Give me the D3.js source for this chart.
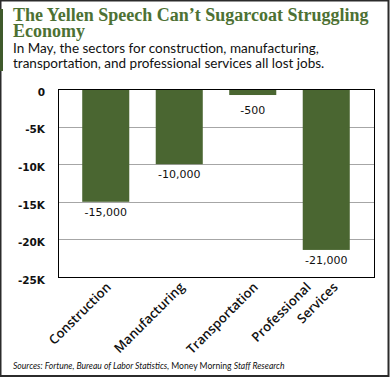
<!DOCTYPE html>
<html>
<head>
<meta charset="utf-8">
<script src="https://cdn.jsdelivr.net/npm/d3@7"></script>
<style>
  html, body { margin: 0; padding: 0; background: #fff; }
  svg { display: block; }
</style>
</head>
<body>
<script>
const categories = ["Construction", "Manufacturing", "Transportation", "Professional Services"];
const categoryLines = [["Construction"], ["Manufacturing"], ["Transportation"], ["Professional", "Services"]];
const jobChanges = [-15000, -10000, -800, -21400];
const valueLabels = ["-15,000", "-10,000", "-500", "-21,000"];
const yTicks = [0, -5000, -10000, -15000, -20000, -25000];
const yTickLabels = ["0", "-5K", "-10K", "-15K", "-20K", "-25K"];
const titleLines = ["The Yellen Speech Can\u2019t Sugarcoat Struggling", "Economy"];
const subtitleLines = ["In May, the sectors for construction, manufacturing,", "transportation, and professional services all lost jobs."];

const W = 390, H = 377;
const plot = { left: 58, top: 89, right: 374, bottom: 277 };
const green = "#4a6631";

const svg = d3.select("body").append("svg").attr("width", W).attr("height", H);

// frame
svg.append("rect").attr("x", 0.5).attr("y", 0.5).attr("width", 388).attr("height", 375.5)
  .attr("fill", "#fff").attr("stroke", "#2b2b2b").attr("stroke-width", 2);
svg.append("rect").attr("x", 0).attr("y", 9).attr("width", 3).attr("height", 62).attr("fill", "#3f5a2b");

// title
svg.append("g").selectAll("text").data(titleLines).join("text")
  .attr("x", 13).attr("y", (d, i) => 20.5 + i * 16.5)
  .attr("font-family", "'Liberation Serif', serif").attr("font-weight", "bold")
  .attr("font-size", 18).attr("fill", "#4d7133")
  .text(d => d);

svg.append("g").selectAll("text").data(subtitleLines).join("text")
  .attr("x", 13).attr("y", (d, i) => 53 + i * 15)
  .attr("font-family", "Lato, sans-serif").attr("font-size", 13.5).attr("fill", "#111")
  .text(d => d);

const y = d3.scaleLinear().domain([-25000, 0]).range([plot.bottom, plot.top]);
const x = d3.scaleBand().domain(categories).range([69, 363]).paddingInner(0.36).paddingOuter(0.18);

// gridlines
svg.append("g").selectAll("line").data(yTicks.filter(t => t !== 0 && t !== -25000)).join("line")
  .attr("x1", plot.left).attr("x2", plot.right)
  .attr("y1", d => Math.round(y(d)) + 0.5).attr("y2", d => Math.round(y(d)) + 0.5)
  .attr("stroke", "#a6a6a6").attr("stroke-width", 1);

// y axis labels
const yAxis = d3.axisLeft(y).tickValues(yTicks).tickFormat((d, i) => yTickLabels[i]).tickSize(0).tickPadding(0);
const gy = svg.append("g").attr("transform", `translate(${plot.left - 13},3)`).call(yAxis);
gy.select(".domain").remove();
gy.selectAll("text").attr("font-family", "'DejaVu Sans', sans-serif").attr("font-weight", "bold")
  .attr("font-size", 10.5).attr("fill", "#111");

// bars
svg.append("g").selectAll("rect").data(jobChanges).join("rect")
  .attr("x", (d, i) => x(categories[i]))
  .attr("y", y(0))
  .attr("width", x.bandwidth())
  .attr("height", d => y(d) - y(0))
  .attr("fill", green);

// value labels
svg.append("g").selectAll("text").data(jobChanges).join("text")
  .attr("x", (d, i) => x(categories[i]) + x.bandwidth() / 2)
  .attr("y", d => Math.max(y(d) + 14, y(0) + 25))
  .attr("text-anchor", "middle")
  .attr("font-family", "'DejaVu Sans', sans-serif").attr("font-size", 11).attr("fill", "#111")
  .text((d, i) => valueLabels[i]);

// plot border
svg.append("rect").attr("x", plot.left + 0.5).attr("y", plot.top + 0.5)
  .attr("width", plot.right - plot.left).attr("height", plot.bottom - plot.top)
  .attr("fill", "none").attr("stroke", "#000").attr("stroke-width", 1);

// x labels
const xl = svg.append("g").selectAll("text").data(categories).join("text")
  .attr("transform", d => `translate(${x(d) + x.bandwidth() / 2 + 6},${plot.bottom + 11}) rotate(-45)`)
  .attr("text-anchor", "end")
  .attr("font-family", "'Open Sans', sans-serif").attr("font-weight", 600)
  .attr("font-size", 13).attr("fill", "#111");
xl.each(function (d, i) {
  const lines = categoryLines[i];
  const n = lines.length;
  d3.select(this).selectAll("tspan").data(lines).join("tspan")
    .attr("x", (l, j) => n > 1 ? (j - (n - 1) / 2) * 19 - 5 : 0)
    .attr("y", (l, j) => n > 1 ? (j - (n - 1) / 2) * 19 - 5 : 0)
    .text(l => l);
});

// sources
const src = svg.append("text").attr("x", 13).attr("y", 369)
  .attr("font-family", "Lato, sans-serif").attr("font-size", 8.6).attr("fill", "#111");
src.append("tspan").attr("font-style", "italic").text("Sources: Fortune, Bureau of Labor Statistics, ");
src.append("tspan").text("Money Morning ");
src.append("tspan").attr("font-style", "italic").text("Staff Research");
</script>
</body>
</html>
